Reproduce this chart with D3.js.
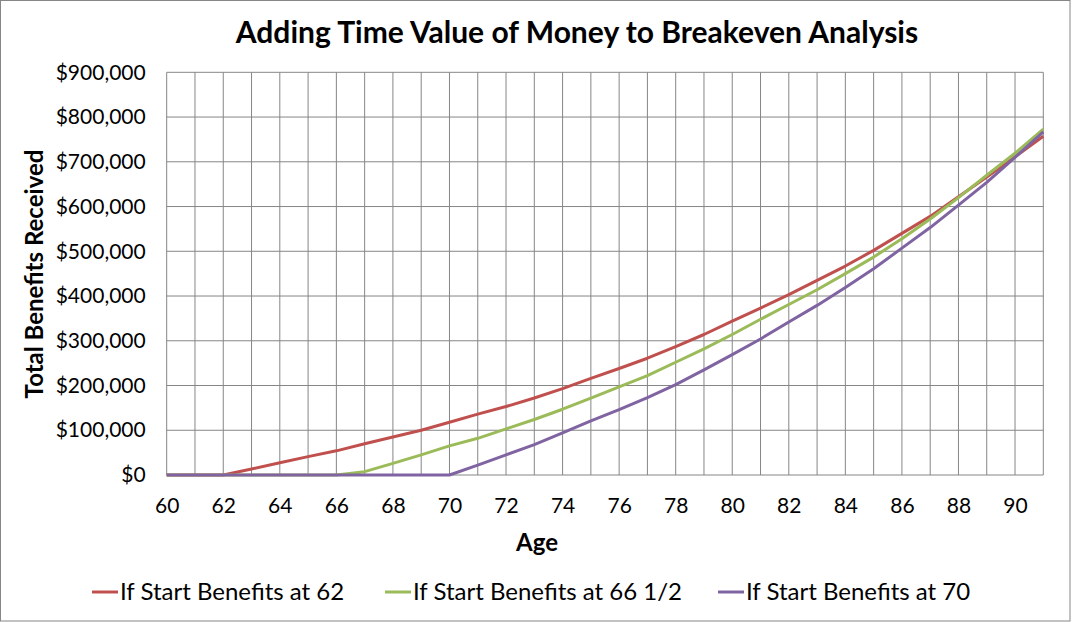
<!DOCTYPE html>
<html><head><meta charset="utf-8">
<script src="https://cdn.jsdelivr.net/npm/d3@7"></script>
<style>body{margin:0;background:#fff}svg{display:block}text{font-family:Lato,"Open Sans",sans-serif;fill:#000}</style>
</head><body><svg id="c" width="1072" height="622"></svg>
<script>
const ages = d3.range(60, 92);
const start62 = [0,0,0,13500,27500,41000,54000,70000,85000,100000,118000,136000,153000,172000,193000,216000,238000,261000,287000,314000,344000,373000,403000,435000,467000,502000,540000,578000,622000,666000,711000,757000];
const start66half = [0,0,0,0,0,0,0,7500,26000,45000,65000,82000,103000,124000,147000,172000,197000,222000,252000,282000,314000,348000,381000,414000,450000,487000,528000,572000,620000,670000,719000,773000];
const start70 = [0,0,0,0,0,0,0,0,0,0,0,22000,45000,68000,94000,121000,146000,173000,202000,235000,269000,304000,342000,379000,419000,461000,507000,553000,603000,654000,710000,767000];
const seriesNames = ["If Start Benefits at 62","If Start Benefits at 66 1/2","If Start Benefits at 70"];
const seriesColors = ["#C0504D","#9BBB59","#8064A2"];
const yTicks = [0,100000,200000,300000,400000,500000,600000,700000,800000,900000];
const xTicks = d3.range(60, 92, 2);

const svg = d3.select("#c");
const L = 166.7, R = 1043.3, T = 72.3, B = 475;
const x = d3.scaleLinear().domain([60, 91]).range([L, R]);
const y = d3.scaleLinear().domain([0, 900000]).range([B, T]);

svg.append("rect").attr("x",0.5).attr("y",0.5).attr("width",1069.5).attr("height",620.5)
  .attr("fill","#fff").attr("stroke","#868686").attr("stroke-width",1);

// grid
const g = svg.append("g");
g.selectAll("line.v").data(ages).join("line")
  .attr("x1",d=>x(d)).attr("x2",d=>x(d)).attr("y1",T).attr("y2",B)
  .attr("stroke","#868686").attr("stroke-width",1);
g.selectAll("line.h").data(yTicks).join("line").attr("class","h")
  .attr("x1",L).attr("x2",R).attr("y1",d=>y(d)).attr("y2",d=>y(d))
  .attr("stroke","#868686").attr("stroke-width",1);

// axes labels
const fmt = d => "$" + d3.format(",")(d);
const yAxis = d3.axisLeft(y).tickValues(yTicks).tickFormat(fmt).tickSize(0).tickPadding(21);
svg.append("g").attr("transform",`translate(${L},0)`).call(yAxis)
  .call(s=>s.select(".domain").remove())
  .selectAll("text").style("font-size","21px").style("font-family","Lato");
const xAxis = d3.axisBottom(x).tickValues(xTicks).tickFormat(d3.format("d")).tickSize(0).tickPadding(23);
svg.append("g").attr("transform",`translate(0,${B})`).call(xAxis)
  .call(s=>s.select(".domain").remove())
  .selectAll("text").style("font-size","21px").style("font-family","Lato");

// lines
const line = d3.line().x((d,i)=>x(ages[i])).y(d=>y(d));
[start62, start66half, start70].forEach((s,k)=>{
  svg.append("path").datum(s).attr("d",line).attr("fill","none")
    .attr("stroke",seriesColors[k]).attr("stroke-width",3).attr("stroke-linejoin","round");
});

// titles
svg.append("text").attr("x",577).attr("y",43).attr("text-anchor","middle")
  .style("font-size","30px").style("font-weight","bold").text("Adding Time Value of Money to Breakeven Analysis");
svg.append("text").attr("x",537).attr("y",551).attr("text-anchor","middle")
  .style("font-size","24px").style("font-weight","bold").text("Age");
svg.append("text").attr("transform","translate(43,274) rotate(-90)").attr("text-anchor","middle")
  .style("font-size","24px").style("font-weight","bold").text("Total Benefits Received");

// legend
const legX = [92, 385, 718];
seriesNames.forEach((n,k)=>{
  svg.append("line").attr("x1",legX[k]).attr("x2",legX[k]+26).attr("y1",592).attr("y2",592)
    .attr("stroke",seriesColors[k]).attr("stroke-width",3);
  svg.append("text").attr("x",legX[k]+28).attr("y",600).style("font-size","24px").text(n);
});
</script></body></html>
